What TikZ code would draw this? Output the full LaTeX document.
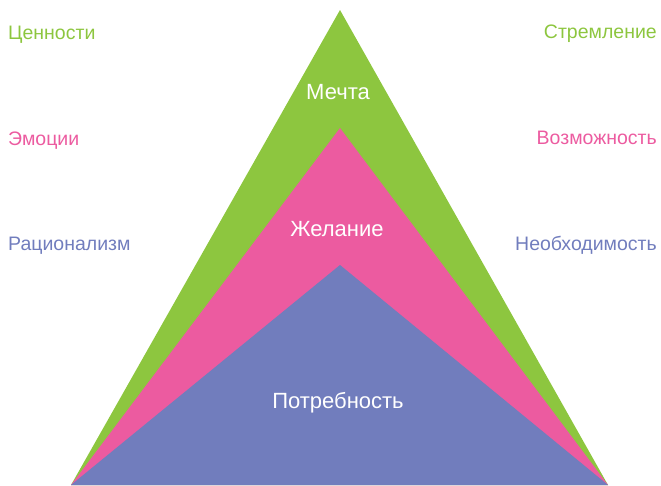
\documentclass[tikz,border=0pt]{standalone}
\usepackage{fontspec}
\setmainfont{Liberation Sans}
\definecolor{cgreen}{HTML}{8DC63F}
\definecolor{cpink}{HTML}{EC5BA0}
\definecolor{cblue}{HTML}{717DBD}
\begin{document}
\begin{tikzpicture}[x=1pt,y=-1pt,
  lbl/.style={font=\fontsize{19.5}{22}\selectfont, inner sep=0pt},
  inlbl/.style={font=\fontsize{22}{24}\selectfont, inner sep=0pt, text=white, anchor=base}]
\useasboundingbox (0,0) rectangle (661,485);
\coordinate (L) at (71,485);
\coordinate (R) at (608,485);
\coordinate (A1) at (340,10);
\coordinate (A2) at (340,128);
\coordinate (A3) at (340,265);
\fill[cgreen] (L) -- (A1) -- (R) -- cycle;
\fill[cpink] (L) -- (A2) -- (R) -- cycle;
\fill[cblue] (L) -- (A3) -- (R) -- cycle;
\node[inlbl] (m) at (338,99.5) {Мечта};
\node[inlbl] (zh) at (337,236) {Желание};
\node[inlbl] (p) at (338,408) {Потребность};
\node[lbl, text=cgreen, anchor=base west] (l1) at (8,39.5) {Ценности};
\node[lbl, text=cpink, anchor=base west] (l2) at (8,145) {Эмоции};
\node[lbl, text=cblue, anchor=base west] (l3) at (8,250.5) {Рационализм};
\node[lbl, text=cgreen, anchor=base east] (r1) at (657,38.5) {Стремление};
\node[lbl, text=cpink, anchor=base east] (r2) at (657,144) {Возможность};
\node[lbl, text=cblue, anchor=base east] (r3) at (657,250.5) {Необходимость};
\end{tikzpicture}
\end{document}
